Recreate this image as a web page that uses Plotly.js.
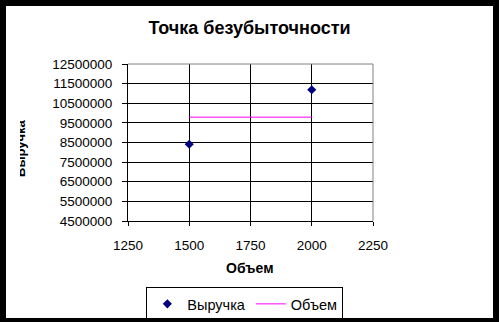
<!DOCTYPE html>
<html>
<head>
<meta charset="utf-8">
<script src="https://cdn.plot.ly/plotly-3.0.1.min.js"></script>
<style>
  html, body { margin: 0; padding: 0; background: #000; width: 499px; height: 322px; overflow: hidden; }
  #frame { position: absolute; left: 6px; top: 6px; width: 487px; height: 312px; background: #fff; }
  #chart { position: absolute; left: 0; top: 0; width: 487px; height: 312px; }
  #clip { position: absolute; left: 0; top: 0; width: 14px; height: 312px; background: #fff; }
</style>
</head>
<body>
<div id="frame">
  <div id="chart"></div>
  <div id="clip"></div>
</div>
<script>
// Data
const revenueX = [1500, 2000];
const revenueY = [8410000, 11190000];
const volumeX = [1500, 2000];
const volumeY = [9790000, 9790000];
const seriesNames = ['Выручка', 'Объем'];
const chartTitle = 'Точка безубыточности';
const xTitle = 'Объем';
const yTitle = 'Выручка';
const xTicks = [1250, 1500, 1750, 2000, 2250];
const yTicks = [4500000, 5500000, 6500000, 7500000, 8500000, 9500000, 10500000, 11500000, 12500000];

const font = 'Liberation Sans, Arial, sans-serif';

const traces = [
  {
    x: revenueX, y: revenueY, name: seriesNames[0],
    type: 'scatter', mode: 'markers',
    marker: { symbol: 'diamond', size: 7, color: '#000080' }
  },
  {
    x: volumeX, y: volumeY, name: seriesNames[1],
    type: 'scatter', mode: 'lines',
    line: { color: '#ff00ff', width: 1 }
  }
];

const layout = {
  width: 487, height: 312,
  margin: { l: 122, r: 119.5, t: 58.3, b: 97.3, autoexpand: false },
  paper_bgcolor: '#fff', plot_bgcolor: '#fff',
  font: { family: font, size: 13.5, color: '#000' },
  showlegend: true,
  title: {
    text: chartTitle,
    font: { family: font, size: 18, color: '#000', weight: 'bold' },
    x: 0.5, xref: 'container', xanchor: 'center',
    y: 1 - 21.5 / 312, yref: 'container', yanchor: 'middle'
  },
  xaxis: {
    range: [1250, 2250], tickvals: xTicks, ticktext: xTicks.map(String),
    showgrid: true, gridcolor: '#000', gridwidth: 1,
    zeroline: false, showline: true, linecolor: '#000', linewidth: 1,
    ticks: 'outside', ticklen: 4, tickcolor: '#000', ticklabelstandoff: 8,
    tickfont: { family: font, size: 13.5, color: '#000' }
  },
  yaxis: {
    range: [4500000, 12500000], tickvals: yTicks, ticktext: yTicks.map(String),
    showgrid: true, gridcolor: '#000', gridwidth: 1,
    zeroline: false, showline: true, linecolor: '#000', linewidth: 1,
    ticks: 'outside', ticklen: 5, tickcolor: '#000', ticklabelstandoff: 7,
    tickfont: { family: font, size: 13.5, color: '#000' }
  },
  shapes: [
    { type: 'line', xref: 'paper', yref: 'paper', x0: 0, x1: 1, y0: 1, y1: 1,
      line: { color: '#808080', width: 1 }, layer: 'above' },
    { type: 'line', xref: 'paper', yref: 'paper', x0: 1, x1: 1, y0: 0, y1: 1,
      line: { color: '#808080', width: 1 }, layer: 'above' }
  ],
  annotations: [
    { text: xTitle, showarrow: false, xref: 'paper', yref: 'paper',
      x: 0.498, y: -0.302, xanchor: 'center', yanchor: 'middle',
      font: { family: font, size: 14, color: '#000', weight: 'bold' } },
    { text: yTitle, showarrow: false, xref: 'paper', yref: 'paper',
      x: 0, xshift: -107.5, y: 0.462, xanchor: 'center', yanchor: 'middle', textangle: -90,
      font: { family: font, size: 13, color: '#000', weight: 'bold' } }
  ],
  legend: {
    orientation: 'h', x: 0.477, xanchor: 'center', y: -0.42, yanchor: 'top',
    bordercolor: '#000', borderwidth: 1, bgcolor: '#fff',
    font: { family: font, size: 14.5, color: '#000' }
  }
};

Plotly.newPlot('chart', traces, layout, { displayModeBar: false, staticPlot: true });
</script>
</body>
</html>
